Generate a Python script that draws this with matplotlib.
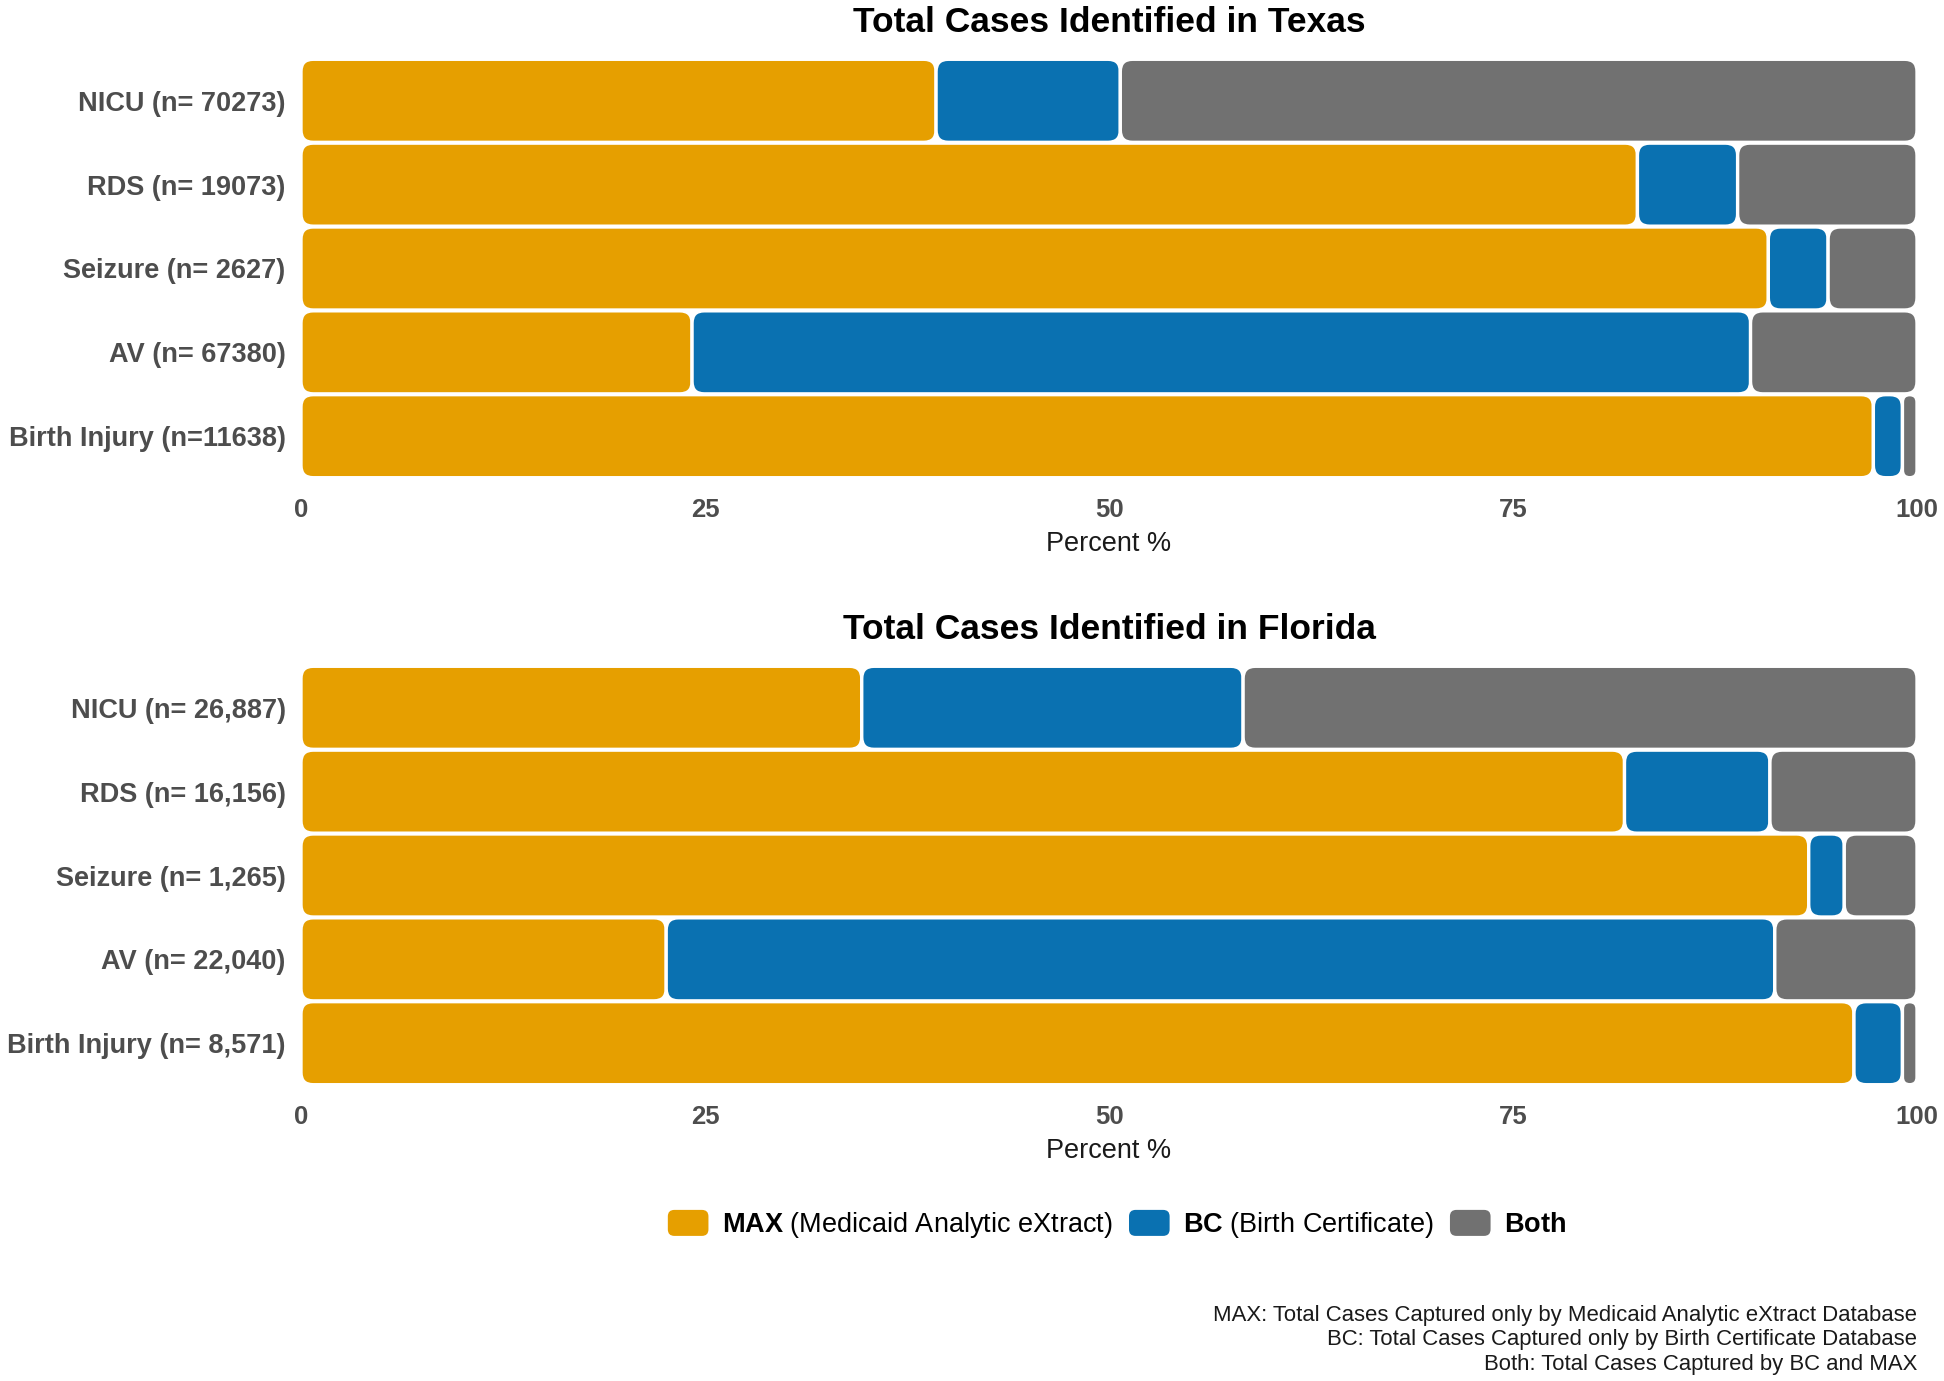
import matplotlib
matplotlib.use('Agg')
import matplotlib.pyplot as plt
from matplotlib.patches import FancyBboxPatch
from matplotlib.legend_handler import HandlerPatch
from matplotlib.patches import Patch

plt.rcParams['font.family'] = ['Liberation Sans', 'DejaVu Sans']
plt.rcParams['mathtext.fontset'] = 'custom'
plt.rcParams['mathtext.rm'] = 'Liberation Sans'
plt.rcParams['mathtext.bf'] = 'Liberation Sans:bold'

# data (percent of total cases)
texas_labels = ['NICU (n= 70273)', 'RDS (n= 19073)', 'Seizure (n= 2627)',
                'AV (n= 67380)', 'Birth Injury (n=11638)']
texas_max = [39.3, 82.7, 90.8, 24.2, 97.3]
texas_bc = [11.4, 6.2, 3.7, 65.5, 1.8]
texas_both = [49.3, 11.1, 5.5, 10.3, 0.9]

florida_labels = ['NICU (n= 26,887)', 'RDS (n= 16,156)', 'Seizure (n= 1,265)',
                  'AV (n= 22,040)', 'Birth Injury (n= 8,571)']
florida_max = [34.7, 81.9, 93.3, 22.6, 96.1]
florida_bc = [23.6, 9.0, 2.2, 68.6, 3.0]
florida_both = [41.7, 9.1, 4.5, 8.8, 0.9]

legend_labels = [r'$\bf{MAX}$ (Medicaid Analytic eXtract)',
                 r'$\bf{BC}$ (Birth Certificate)',
                 r'$\bf{Both}$']
colors = ['#E69F00', '#0A71B1', '#717171']

caption = ('MAX: Total Cases Captured only by Medicaid Analytic eXtract Database\n'
           'BC: Total Cases Captured only by Birth Certificate Database\n'
           'Both: Total Cases Captured by BC and MAX')

W, H = 1944, 1381
fig = plt.figure(figsize=(W / 100, H / 100), dpi=100)

ax_left = 301 / W
ax_w = 1616 / W
ax_h = 436 / H
ax_tx = fig.add_axes([ax_left, 1 - 486.5 / H, ax_w, ax_h])
ax_fl = fig.add_axes([ax_left, 1 - 1093.5 / H, ax_w, ax_h])

# y data units per x data unit, so corners come out round on screen
ASP = (1616 / 100) / (436 / 5.2)


def rounded_bars(ax, labels, parts, title):
    n = len(labels)
    ypos = list(range(n))[::-1]
    left = [0.0] * n
    for vals, col in zip(parts, colors):
        bars = ax.barh(ypos, vals, left=left, height=0.99, color=col)
        left = [a + b for a, b in zip(left, vals)]
        for b in bars:
            x, y = b.get_x(), b.get_y()
            w, h = b.get_width(), b.get_height()
            b.remove()
            r = min(0.75, w / 2, h / (2 * ASP))
            p = FancyBboxPatch((x, y), w, h,
                               boxstyle='round,pad=0,rounding_size=%f' % r,
                               mutation_aspect=ASP, facecolor=col,
                               edgecolor='white', linewidth=2.4)
            ax.add_patch(p)
    ax.set_xlim(0, 100)
    ax.set_ylim(-0.6, n - 0.4)
    ax.set_yticks(ypos)
    ax.set_yticklabels(labels, fontsize=19.5, fontweight='bold', color='#4D4D4D')
    ax.set_xticks([0, 25, 50, 75, 100])
    ax.set_xticklabels(['0', '25', '50', '75', '100'], fontsize=18.5,
                       fontweight='bold', color='#4D4D4D')
    ax.tick_params(length=0)
    ax.tick_params(axis='y', pad=11)
    ax.tick_params(axis='x', pad=8.5)
    ax.set_xlabel('Percent %', fontsize=19.5, color='#1A1A1A', labelpad=6.5)
    for s in ax.spines.values():
        s.set_visible(False)
    ax.text(0.5, 1 + 28.5 / 436, title, transform=ax.transAxes, ha='center',
            va='center', fontsize=25.5, fontweight='bold', color='black')


rounded_bars(ax_tx, texas_labels, [texas_max, texas_bc, texas_both],
             'Total Cases Identified in Texas')
rounded_bars(ax_fl, florida_labels, [florida_max, florida_bc, florida_both],
             'Total Cases Identified in Florida')


def round_handle(legend, orig_handle, xdescent, ydescent, width, height, fontsize):
    return FancyBboxPatch((-xdescent, -ydescent), width, height,
                          boxstyle='round,pad=0,rounding_size=%f' % (height * 0.25))


handles = [Patch(facecolor=c, edgecolor='none', label=l)
           for c, l in zip(colors, legend_labels)]
fig.legend(handles=handles, loc='center', bbox_to_anchor=(1117 / W, 1 - 1225 / H),
           ncol=3, frameon=False, fontsize=19.5, handlelength=1.5, handleheight=1.1,
           handletextpad=0.5, columnspacing=0.6,
           handler_map={Patch: HandlerPatch(patch_func=round_handle)})

fig.text(1917 / W, 1 - 1340 / H, caption, ha='right', va='center',
         multialignment='right', fontsize=15.9, color='#1A1A1A', linespacing=1.22)

fig.savefig('out.png', dpi=100)
